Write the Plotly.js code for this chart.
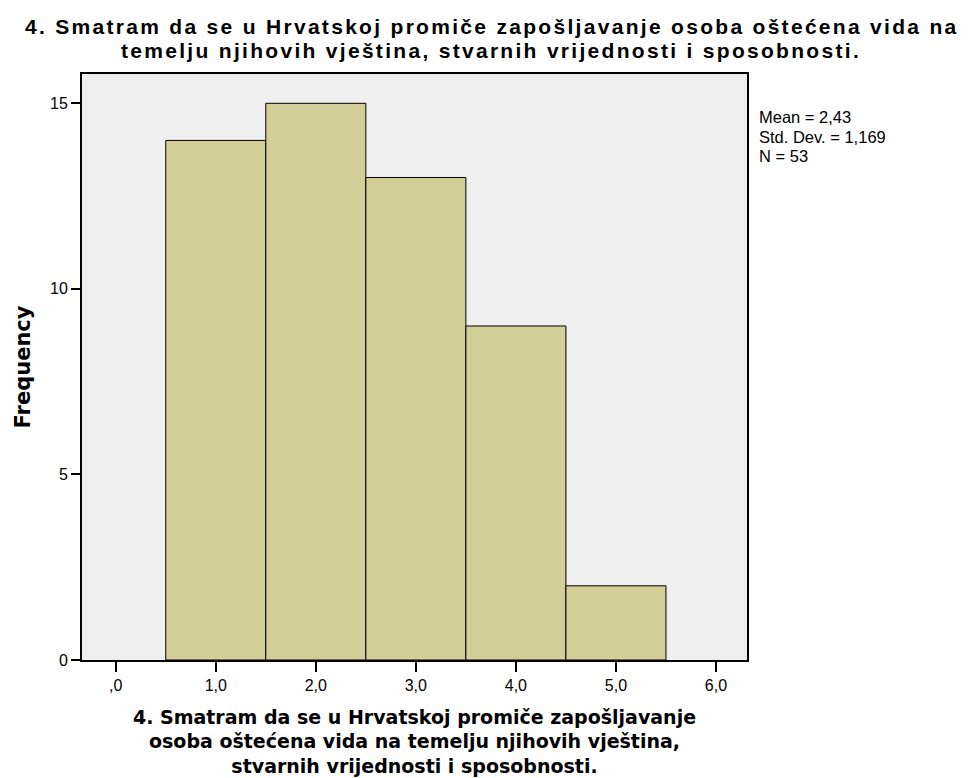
<!DOCTYPE html>
<html>
<head>
<meta charset="utf-8">
<script src="https://cdn.plot.ly/plotly-3.0.1.min.js"></script>
<style>html,body{margin:0;padding:0;background:#fff;}#chart{width:970px;height:778px;}</style>
</head>
<body>
<div id="chart"></div>
<script>
var binCenters = [1, 2, 3, 4, 5];
var frequencies = [14, 15, 13, 9, 2];
var xTickValues = [0, 1, 2, 3, 4, 5, 6];
var xTickLabels = [",0", "1,0", "2,0", "3,0", "4,0", "5,0", "6,0"];
var yTickValues = [0, 5, 10, 15];
var statsLines = ["Mean = 2,43", "Std. Dev. = 1,169", "N = 53"];
var titleLines = ["4. Smatram da se u Hrvatskoj promiče zapošljavanje osoba oštećena vida na", "temelju njihovih vještina, stvarnih vrijednosti i sposobnosti."];
var xTitleLines = ["4. Smatram da se u Hrvatskoj promiče zapošljavanje", "osoba oštećena vida na temelju njihovih vještina,", "stvarnih vrijednosti i sposobnosti."];

var trace = {
  type: "bar",
  x: binCenters,
  y: frequencies,
  width: 1,
  marker: {color: "#d3ce98", line: {color: "#000000", width: 1}},
  hoverinfo: "x+y"
};

function spaced(s) { return '<span style="letter-spacing:2.3px">' + s + '</span>'; }
var titleFont = {family: "Liberation Sans, Arial, sans-serif", size: 21, color: "#000", weight: "bold"};

var annotations = statsLines.map(function (s, i) {
  return {
    xref: "paper", yref: "paper",
    x: 1.0145, y: 1 - (42.5 + i * 19.5) / 586, xanchor: "left", yanchor: "middle",
    align: "left", showarrow: false, text: s, height: 19,
    font: {family: "Liberation Sans, Arial, sans-serif", size: 16.5, color: "#000"}
  };
});
annotations.push({
  xref: "paper", yref: "paper",
  x: 0.615, y: 1 + 24 / 586, xanchor: "center", yanchor: "middle",
  showarrow: false, text: spaced(titleLines[1]), font: titleFont
});

var layout = {
  width: 970, height: 778,
  margin: {l: 82, r: 223, t: 74, b: 118},
  paper_bgcolor: "#ffffff",
  plot_bgcolor: "#efefef",
  showlegend: false,
  title: {
    text: spaced(titleLines[0]),
    font: titleFont,
    x: 0.507, xanchor: "center", xref: "container",
    y: 0.975, yanchor: "top", yref: "container"
  },
  xaxis: {
    range: [-0.337, 6.31],
    tickvals: xTickValues, ticktext: xTickLabels,
    ticks: "outside", ticklen: 10, tickwidth: 2, tickcolor: "#000",
    showgrid: false, zeroline: false,
    showline: true, linecolor: "#000", linewidth: 2, mirror: true,
    tickfont: {family: "Liberation Sans, Arial, sans-serif", size: 16, color: "#000"},
    title: {text: xTitleLines.join("<br>"), standoff: 17,
      font: {family: "DejaVu Sans, Verdana, sans-serif", size: 19, color: "#000", weight: "bold"}}
  },
  yaxis: {
    range: [0, 15.79],
    tickvals: yTickValues,
    ticks: "outside", ticklen: 9, tickwidth: 2, tickcolor: "#000",
    showgrid: false, zeroline: false,
    showline: true, linecolor: "#000", linewidth: 2, mirror: true,
    tickfont: {family: "Liberation Sans, Arial, sans-serif", size: 16, color: "#000"},
    title: {text: "Frequency", standoff: 14,
      font: {family: "DejaVu Sans, Verdana, sans-serif", size: 21, color: "#000", weight: "bold"}}
  },
  annotations: annotations
};

Plotly.newPlot("chart", [trace], layout, {displayModeBar: false, staticPlot: true});
</script>
</body>
</html>
